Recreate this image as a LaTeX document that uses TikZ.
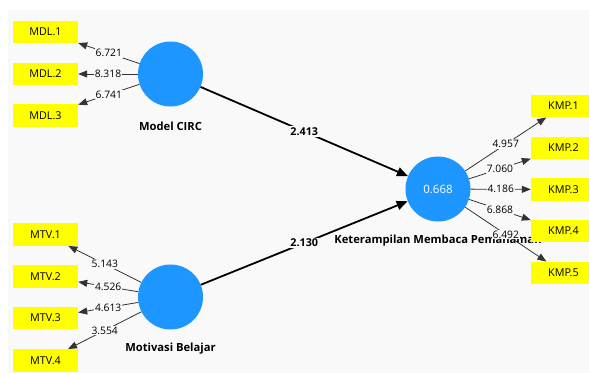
\documentclass[tikz,border=0pt]{standalone}
\usepackage{fontspec}
\setmainfont{Open Sans}
\usetikzlibrary{arrows.meta}
\definecolor{bgc}{HTML}{F9F9F9}
\definecolor{lv}{HTML}{1E96FF}
\definecolor{ind}{HTML}{FFFF00}
\begin{document}
\begin{tikzpicture}[x=1pt,y=-1pt,
  lat/.style={circle,fill=lv,minimum size=65pt,inner sep=0pt,text=white,font=\fontsize{11.5}{13}\selectfont},
  indbox/.style={rectangle,fill=ind,minimum width=65pt,minimum height=22.5pt,inner sep=0pt,font=\fontsize{10.8}{12}\selectfont},
  latlbl/.style={font=\bfseries\fontsize{11.2}{13}\selectfont},
  load/.style={draw=black!80,line width=0.8pt,-{Triangle[length=9pt,width=7pt]}},
  strpath/.style={draw=black,line width=1.8pt,-{Triangle[length=11pt,width=9pt]}},
  lval/.style={fill=bgc,inner sep=1pt,font=\fontsize{10.3}{12}\selectfont,midway},
  sval/.style={fill=bgc,inner sep=1.5pt,font=\bfseries\fontsize{10.8}{12}\selectfont,midway}]
\useasboundingbox (0,0) rectangle (589,373);
\clip (0,0) rectangle (589,373);
\fill[white] (0,0) rectangle (589,373);
\fill[bgc] (8,10) rectangle (589,373);
% latent labels
\node[latlbl] (lmc) at (170.5,126) {Model CIRC};
\node[latlbl] (lmb) at (170.5,349) {Motivasi Belajar};
\node[latlbl] (lkmp) at (438,241) {Keterampilan Membaca Pemahaman};
% latent variables
\node[lat] (mc) at (170.5,74) {};
\node[lat] (mb) at (170.5,297) {};
\node[lat] (kmp) at (438,189) {0.668};
% indicators
\node[indbox] (m1) at (45.5,32) {MDL.1};
\node[indbox] (m2) at (45.5,74) {MDL.2};
\node[indbox] (m3) at (45.5,115.5) {MDL.3};
\node[indbox] (t1) at (45.5,234.5) {MTV.1};
\node[indbox] (t2) at (45.5,276.5) {MTV.2};
\node[indbox] (t3) at (45.5,318) {MTV.3};
\node[indbox] (t4) at (45.5,360.5) {MTV.4};
\node[indbox] (k1) at (563.5,106) {KMP.1};
\node[indbox] (k2) at (563.5,148) {KMP.2};
\node[indbox] (k3) at (563.5,189.5) {KMP.3};
\node[indbox] (k4) at (563.5,231) {KMP.4};
\node[indbox] (k5) at (563.5,273) {KMP.5};
% loadings
\draw[load] (mc) -- node[lval]{6.721} (m1);
\draw[load] (mc) -- node[lval]{8.318} (m2);
\draw[load] (mc) -- node[lval]{6.741} (m3);
\draw[load] (mb) -- node[lval]{5.143} (t1);
\draw[load] (mb) -- node[lval]{4.526} (t2);
\draw[load] (mb) -- node[lval]{4.613} (t3);
\draw[load] (mb) -- node[lval]{3.554} (t4);
\draw[load] (kmp) -- node[lval]{4.957} (k1);
\draw[load] (kmp) -- node[lval]{7.060} (k2);
\draw[load] (kmp) -- node[lval]{4.186} (k3);
\draw[load] (kmp) -- node[lval]{6.868} (k4);
\draw[load] (kmp) -- node[lval]{6.492} (k5);
% structural paths
\draw[strpath] (mc) -- node[sval]{2.413} (kmp);
\draw[strpath] (mb) -- node[sval]{2.130} (kmp);
\end{tikzpicture}
\end{document}
